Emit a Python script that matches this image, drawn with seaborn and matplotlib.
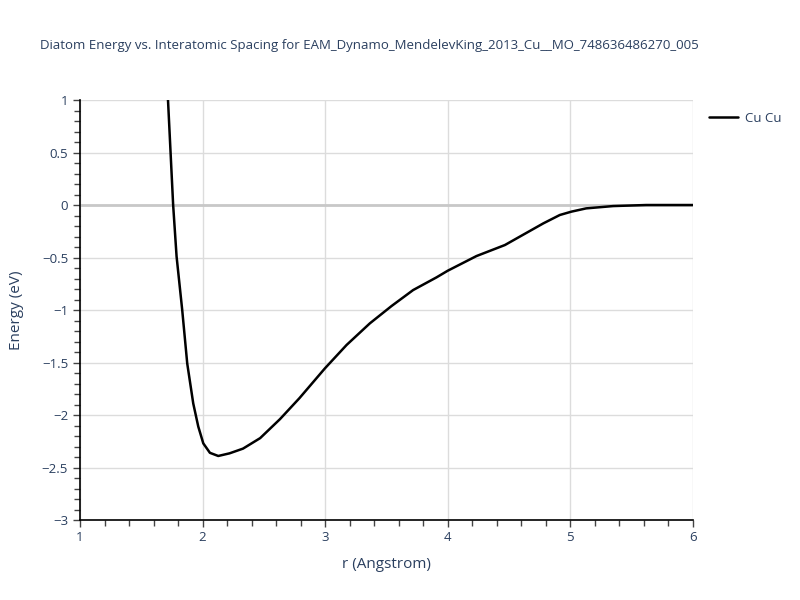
import pandas as pd
import matplotlib.pyplot as plt
import seaborn as sns
from matplotlib.ticker import MultipleLocator

# dados (r em Angstrom, energia em eV)
r_vals = [1.70, 1.718, 1.76, 1.788, 1.834, 1.875, 1.924, 1.965, 2.006, 2.06, 2.128,
          2.22, 2.33, 2.47, 2.631, 2.79, 2.998, 3.175, 3.365, 3.542, 3.718, 3.909,
          4.0, 4.235, 4.467, 4.59, 4.78, 4.915, 5.01, 5.13, 5.35, 5.62, 6.0]
energia = [1.25, 1.0, 0.0, -0.49, -1.0, -1.51, -1.89, -2.11, -2.27, -2.36, -2.39,
           -2.365, -2.32, -2.22, -2.04, -1.84, -1.556, -1.333, -1.127, -0.962, -0.81, -0.689,
           -0.626, -0.486, -0.381, -0.30, -0.175, -0.095, -0.063, -0.032, -0.01, 0.0, 0.0]
serie = 'Cu Cu'
titulo = 'Diatom Energy vs. Interatomic Spacing for EAM_Dynamo_MendelevKing_2013_Cu__MO_748636486270_005'

df = pd.DataFrame({'r': r_vals, 'E': energia, 'par': serie})

sns.set_theme(style="whitegrid")
plt.rcParams['font.family'] = ['Open Sans', 'DejaVu Sans']
cor_texto = '#2a3f5f'

fig = plt.figure(figsize=(8, 6), dpi=100)
ax = fig.add_axes([0.1, 0.1333, 0.766, 0.7])

sns.lineplot(data=df, x='r', y='E', hue='par', palette=['black'], linewidth=1.8,
             sort=False, ax=ax)

ax.set_xlim(1, 6)
ax.set_ylim(-3, 1)
ax.xaxis.set_major_locator(MultipleLocator(1))
ax.xaxis.set_minor_locator(MultipleLocator(0.2))
ax.yaxis.set_major_locator(MultipleLocator(0.5))
ax.yaxis.set_minor_locator(MultipleLocator(0.1))
ax.yaxis.set_major_formatter(plt.FuncFormatter(lambda v, p: f'{v:g}'.replace('-', '\u2212')))

ax.grid(True, which='major', color='#dcdcdc', linewidth=1)
ax.grid(False, which='minor')
ax.axhline(0, color='#c8c8c8', linewidth=2, zorder=1)
ax.set_facecolor('white')
for lado in ['top', 'right']:
    ax.spines[lado].set_visible(False)
for lado in ['left', 'bottom']:
    ax.spines[lado].set_color('black')
    ax.spines[lado].set_linewidth(1.2)

ax.tick_params(axis='both', which='both', direction='out', color='#444444',
               labelcolor=cor_texto, labelsize=9.5, bottom=True, left=True)
ax.tick_params(which='major', length=5, width=1)
ax.tick_params(which='minor', length=4, width=1)
ax.tick_params(axis='x', pad=3)

ax.set_xlabel('r (Angstrom)', fontsize=11, color=cor_texto, labelpad=9)
ax.set_ylabel('Energy (eV)', fontsize=11, color=cor_texto, labelpad=13)
fig.text(0.05, 0.925, titulo, fontsize=9.5, color=cor_texto, va='center')

ax.legend(loc='upper left', bbox_to_anchor=(1.007, 1.0), frameon=False,
          fontsize=9.5, labelcolor=cor_texto, handlelength=2.2, handletextpad=0.5,
          title=None)

plt.savefig('out.png', dpi=100)
